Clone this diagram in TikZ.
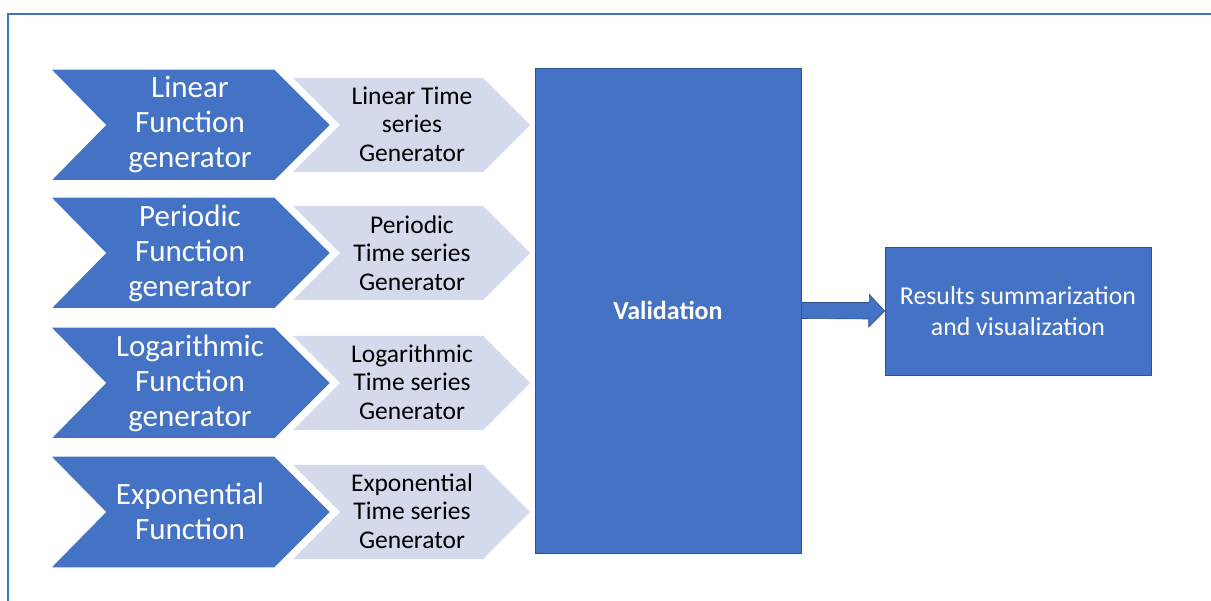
\documentclass[tikz,border=0pt]{standalone}
\usepackage{fontspec}
\setmainfont{Carlito}
\definecolor{dblue}{HTML}{4472C4}
\definecolor{lblue}{HTML}{D5D9EC}
\definecolor{edgeblue}{HTML}{2F528F}
\tikzset{
  bigtxt/.style={text=white, font=\fontsize{31}{35}\selectfont, align=center, inner sep=0pt},
  smalltxt/.style={text=black, font=\fontsize{25.5}{28.5}\selectfont, align=center, inner sep=0pt},
  boxnode/.style={fill=dblue, draw=edgeblue, line width=0.8pt, text=white, align=center, inner sep=0pt, font=\fontsize{25.8}{31}\selectfont},
  darkchev/.style={fill=dblue, draw=white, line width=1.5pt},
  lightchev/.style={fill=lblue},
  blockarrow/.style={fill=dblue, draw=edgeblue, line width=0.6pt, line join=miter},
  frameline/.style={draw=dblue, line width=2.2pt}
}
\begin{document}
\begin{tikzpicture}[x=1pt,y=-1pt]
\useasboundingbox (0,0) rectangle (1211,601);
% frame
\draw[frameline] (8,601) -- (8,14) -- (1215,14);
% chevrons
\foreach \c in {125,253,383,512}{
  \path[lightchev] (293,\c-47) -- (483,\c-47) -- (530,\c) -- (483,\c+47) -- (293,\c+47) -- (340,\c) -- cycle;
  \path[darkchev] (50,\c-56) -- (275,\c-56) -- (331,\c) -- (275,\c+56) -- (50,\c+56) -- (105,\c) -- cycle;
}
% texts
\node[bigtxt] (f1) at (190,125) {Linear\\Function\\generator};
\node[bigtxt] (f2) at (190,253) {Periodic\\Function\\generator};
\node[bigtxt] (f3) at (190,383) {Logarithmic\\Function\\generator};
\node[bigtxt] (f4) at (190,511) {Exponential\\Function};
\node[smalltxt] (t1) at (412,124) {Linear Time\\series\\Generator};
\node[smalltxt] (t2) at (412,253) {Periodic\\Time series\\Generator};
\node[smalltxt] (t3) at (412,382) {Logarithmic\\Time series\\Generator};
\node[smalltxt] (t4) at (412,511) {Exponential\\Time series\\Generator};
% boxes
\node[boxnode, minimum width=266pt, minimum height=485pt, font=\fontsize{26}{30}\selectfont\bfseries] (val) at (668,310.5) {Validation};
\node[boxnode, minimum width=266pt, minimum height=128pt] (res) at (1018,311) {Results summarization\\and visualization};
% arrow
\draw[blockarrow] ([yshift=8pt]val.east) -- ++(68,0) -- ++(0,-8) -- (res.west) -- ++(-16,16) -- ++(0,-8) -- ([yshift=-8pt]val.east) -- cycle;
\end{tikzpicture}
\end{document}
